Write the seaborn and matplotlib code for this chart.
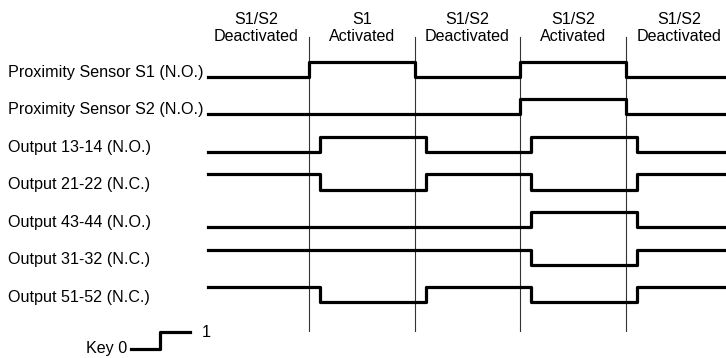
import pandas as pd
import matplotlib.pyplot as plt
import seaborn as sns

# === DATA ===
phase_labels = ["S1/S2\nDeactivated", "S1\nActivated", "S1/S2\nDeactivated",
                "S1/S2\nActivated", "S1/S2\nDeactivated"]
signal_names = ["Proximity Sensor S1 (N.O.)", "Proximity Sensor S2 (N.O.)",
                "Output 13-14 (N.O.)", "Output 21-22 (N.C.)",
                "Output 43-44 (N.O.)", "Output 31-32 (N.C.)",
                "Output 51-52 (N.C.)"]
# logic level in each of the 5 phases
signal_levels = [
    [0, 1, 0, 1, 0],
    [0, 0, 0, 1, 0],
    [0, 1, 0, 1, 0],
    [1, 0, 1, 0, 1],
    [0, 0, 0, 1, 0],
    [1, 1, 1, 0, 1],
    [1, 0, 1, 0, 1],
]
# switching delay (in phase units) of each signal after the sensor edge
signal_delays = [0.0, 0.0, 0.104, 0.104, 0.104, 0.104, 0.104]
t_start, t_end = 0.045, 4.95

key_levels = [0, 1]
key_times = [-0.68, -0.41, -0.13]

# === CONFIG ===
amp = 0.4  # height of a logic "1" in row units
plt.rcParams["font.family"] = ["Liberation Sans", "DejaVu Sans"]
fs = 11.6

# build step vertices
rows = []
for i, (name, lev, d) in enumerate(zip(signal_names, signal_levels, signal_delays)):
    pts = [(t_start, lev[0])]
    for k in range(1, len(lev)):
        if lev[k] != lev[k - 1]:
            pts.append((k + d, lev[k - 1]))
            pts.append((k + d, lev[k]))
    pts.append((t_end, lev[-1]))
    for j, (t, v) in enumerate(pts):
        rows.append({"signal": name, "order": j, "t": t, "y": i - amp * v})
df = pd.DataFrame(rows)

key_df = pd.DataFrame({
    "t": [key_times[0], key_times[1], key_times[1], key_times[2]],
    "y": [7.25 - 0.45 * v for v in [key_levels[0], key_levels[0], key_levels[1], key_levels[1]]],
})

fig = plt.figure(figsize=(7.26, 3.58), dpi=100)
ax = fig.add_axes([0, 0, 1, 1])

# phase boundaries
for k in range(1, len(phase_labels)):
    ax.plot([k, k], [-1.065, 6.76], color="#333333", lw=0.8, zorder=1)

sns.lineplot(data=df, x="t", y="y", units="signal", estimator=None, sort=False,
             color="black", lw=2.3, ax=ax, zorder=2)
sns.lineplot(data=key_df, x="t", y="y", estimator=None, sort=False,
             color="black", lw=2.3, ax=ax)

for k, lab in enumerate(phase_labels):
    ax.text(k + 0.5, -1.305, lab, ha="center", va="center", fontsize=fs,
            linespacing=1.2)

for i, name in enumerate(signal_names):
    ax.text(-1.848, i - 0.133, name, ha="left", va="center", fontsize=fs)

ax.text(key_times[0] - 0.04, 7.25, "Key 0", ha="right", va="center", fontsize=fs)
ax.text(key_times[2] + 0.115, 7.25 - 0.45, "1", ha="left", va="center", fontsize=fs)

ax.set_xlim(-1.924, 4.947)
ax.set_ylim(7.493, -2.053)
ax.axis("off")

fig.savefig("out.png", dpi=100)
